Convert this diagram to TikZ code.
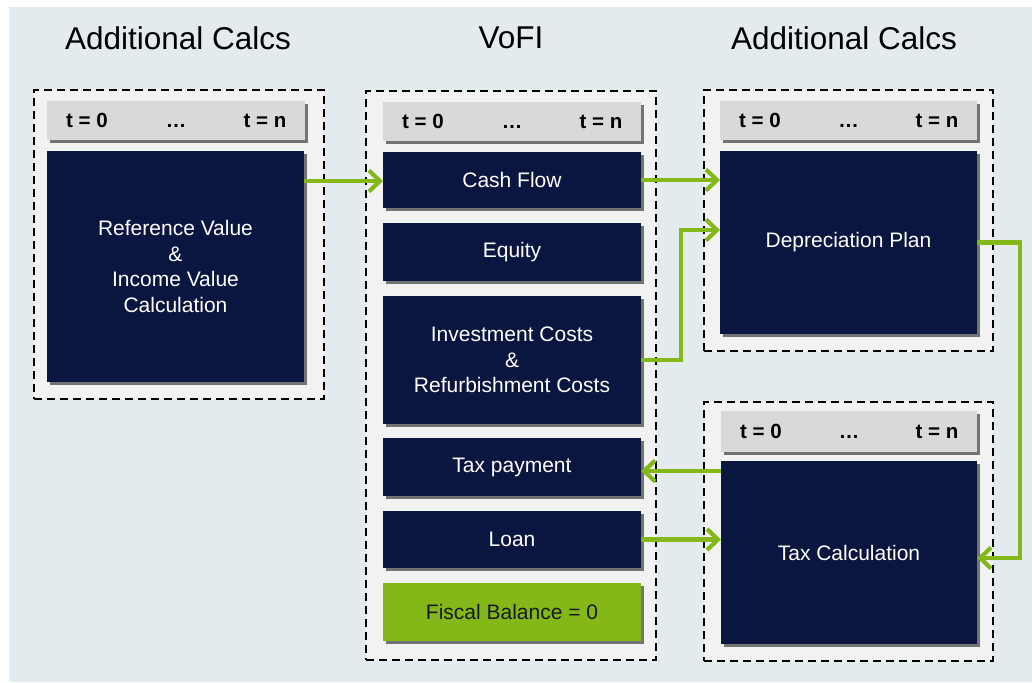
\documentclass[tikz,border=0pt]{standalone}
\usepackage{fontspec}
\setmainfont{Liberation Sans}
\usetikzlibrary{arrows.meta,shadows,calc}
\definecolor{bgc}{HTML}{E4EBEE}
\definecolor{grpc}{HTML}{F2F2F2}
\definecolor{hdrc}{HTML}{D9D9D9}
\definecolor{navy}{HTML}{0B1640}
\definecolor{shad}{HTML}{737373}
\definecolor{lime}{HTML}{84B819}
\newcommand\place[7]{\node[#1, minimum width={#5-#3}, minimum height={#6-#4}] (#2) at (#3,#4) {#7};}
\newcommand\hdrtexts[1]{%
  \node[htxt] (#1a) at ($(#1.west)+(40,7.3)$) {t = 0};
  \node[htxt] (#1b) at ($(#1.center)+(0,7.3)$) {…};
  \node[htxt] (#1c) at ($(#1.east)+(-40,7.3)$) {t = n};}
\tikzset{
  box/.style={rectangle, anchor=north west, inner sep=0pt, outer sep=0pt},
  grp/.style={box, draw=black, fill=grpc, line width=2.6pt, dash pattern=on 8pt off 5pt},
  shd/.style={general shadow={fill=shad, shadow xshift=3pt, shadow yshift=-3pt}},
  hdr/.style={box, fill=hdrc, shd},
  htxt/.style={font=\bfseries\fontsize{20.5}{24}\selectfont, text=black, inner sep=0pt, anchor=base},
  nbox/.style={box, fill=navy, shd, text=white, align=center, font=\fontsize{21}{25.4}\selectfont},
  gbox/.style={box, fill=lime, shd, text=black!90, align=center, font=\fontsize{21}{25.4}\selectfont},
  ttl/.style={font=\fontsize{31.5}{36}\selectfont, text=black},
  arr/.style={draw=lime, line width=4.2pt, -{Straight Barb[length=11pt, width=21pt]}}
}
\begin{document}
\begin{tikzpicture}[x=1pt, y=-1pt]
\useasboundingbox (0,0) rectangle (1032,682);
\fill[white] (0,0) rectangle (1032,682);
\fill[bgc] (9,7) rectangle (1032,682);
% titles
\node[ttl] (t1) at (178,38) {Additional Calcs};
\node[ttl] (t2) at (511,38) {VoFI};
\node[ttl] (t3) at (844,38) {Additional Calcs};
% groups
\place{grp}{gL}{34}{90}{324}{399}{}
\place{grp}{gM}{366}{91}{656}{660}{}
\place{grp}{gR1}{704}{90}{993}{351}{}
\place{grp}{gR2}{704}{402}{993}{661}{}
% headers
\place{hdr}{hL}{47}{101}{305}{140}{}
\place{hdr}{hM}{383}{102}{641}{141}{}
\place{hdr}{hR1}{720}{101}{977}{140}{}
\place{hdr}{hR2}{721}{411}{977}{452}{}
\hdrtexts{hL}
\hdrtexts{hM}
\hdrtexts{hR1}
\hdrtexts{hR2}
% boxes
\place{nbox}{refL}{47}{151}{304}{382}{Reference Value\\\&\\Income Value\\Calculation}
\place{nbox}{cash}{383}{152}{641}{208}{Cash Flow}
\place{nbox}{equity}{383}{223}{641}{281}{Equity}
\place{nbox}{invest}{383}{296}{641}{424}{Investment Costs\\\&\\Refurbishment Costs}
\place{nbox}{taxpay}{383}{438}{641}{496}{Tax payment}
\place{nbox}{loan}{383}{511}{641}{568}{Loan}
\place{gbox}{fiscal}{383}{583}{641}{641}{Fiscal Balance = 0}
\place{nbox}{depr}{720}{151}{977}{334}{Depreciation Plan}
\place{nbox}{taxcalc}{721}{461}{977}{644}{Tax Calculation}
% connectors
\coordinate (c3) at (681,230);
\coordinate (c4) at (1020,558);
\coordinate (c5) at (700,471);
\coordinate (c1) at (340,181);
\draw[arr] (refL.east |- c1) -- (cash.west |- c1);
\draw[arr] (cash.east) -- (depr.west |- cash.east);
\draw[arr] (invest.east) -| (c3) -- (depr.west |- c3);
\draw[arr] (depr.east) -| (c4) -- (taxcalc.east |- c4);
\draw[arr] (taxcalc.west |- c5) -- (taxpay.east |- c5);
\draw[arr] (loan.east) -- (taxcalc.west |- loan.east);
\end{tikzpicture}
\end{document}
